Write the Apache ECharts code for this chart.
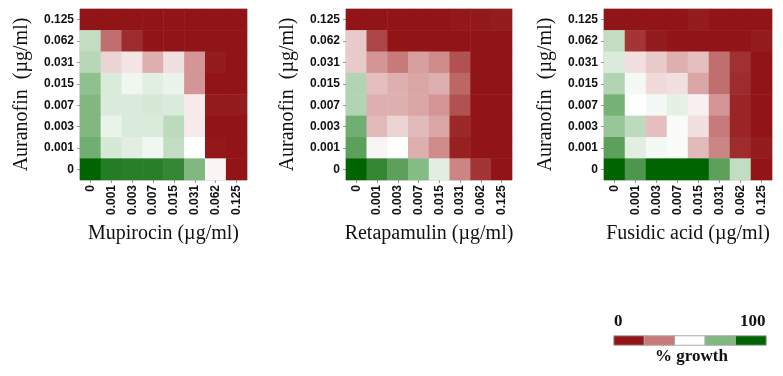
<!DOCTYPE html>
<html>
<head>
<meta charset="utf-8">
<script src="https://cdn.jsdelivr.net/npm/echarts@6/dist/echarts.min.js"></script>
<style>
  html, body { margin: 0; padding: 0; background: #fff; }
  #chart { width: 783px; height: 376px; }
</style>
</head>
<body>
<div id="chart"></div>
<script>
// concentrations (µg/ml), same for both axes
const conc = ['0', '0.001', '0.003', '0.007', '0.015', '0.031', '0.062', '0.125']

// % growth, rows listed top (auranofin 0.125) to bottom (auranofin 0)
const mupirocin = [
  [0, 0, 0, 0, 0, 0, 0, 0],
  [62, 22, 6, 0, 0, 0, 0, 0],
  [64, 42, 45, 35, 44, 30, 2, 0],
  [72, 57, 53, 56, 54, 30, 0, 0],
  [75, 57, 57, 58, 57, 46, 2, 2],
  [75, 54, 57, 57, 63, 46, 0, 0],
  [78, 58, 56, 53, 62, 50, 1, 0],
  [100, 93, 92, 92, 90, 75, 48, 0]
]
const retapamulin = [
  [0, 0, 0, 0, 0, 1, 1, 2],
  [40, 12, 0, 0, 0, 0, 0, 0],
  [40, 30, 25, 32, 28, 15, 0, 0],
  [65, 38, 35, 33, 35, 20, 0, 0],
  [65, 35, 35, 33, 30, 15, 0, 0],
  [78, 37, 42, 37, 33, 5, 0, 0],
  [82, 48, 50, 35, 28, 3, 0, 0],
  [100, 90, 82, 74, 56, 27, 8, 0]
]
const fusidic = [
  [0, 0, 0, 0, 2, 0, 0, 0],
  [62, 8, 2, 0, 0, 0, 0, 2],
  [57, 44, 40, 35, 38, 22, 7, 0],
  [65, 52, 43, 44, 33, 22, 6, 0],
  [77, 50, 52, 55, 47, 30, 4, 0],
  [70, 63, 38, 51, 44, 25, 4, 0],
  [82, 56, 52, 51, 37, 27, 6, 2],
  [100, 85, 100, 100, 100, 82, 62, 0]
]
const legendSteps = [0, 25, 50, 75, 100]

const panels = [
  { name: 'Mupirocin (µg/ml)', rows: mupirocin, left: 80, width: 167 },
  { name: 'Retapamulin (µg/ml)', rows: retapamulin, left: 346, width: 166 },
  { name: 'Fusidic acid (µg/ml)', rows: fusidic, left: 604, width: 168 }
]

const toCells = rows => {
  const out = []
  rows.forEach((row, r) => row.forEach((v, c) => out.push([c, 7 - r, v])))
  return out
}

const tickFont = { fontFamily: 'Liberation Sans, Arial', fontWeight: 'bold', fontSize: 12, color: '#111' }
const nameFont = { fontFamily: 'Liberation Serif, Times New Roman', fontSize: 20, color: '#111' }

const grid = []
const xAxis = []
const yAxis = []
const series = []

panels.forEach((p, i) => {
  grid.push({ left: p.left, top: 9, width: p.width, height: 171, show: true, borderColor: '#c8c8c8', borderWidth: 1 })
  xAxis.push({
    type: 'category', gridIndex: i, data: conc,
    name: p.name, nameLocation: 'middle', nameGap: 44, nameTextStyle: nameFont,
    axisLine: { show: false }, splitLine: { show: false },
    axisTick: { show: true, length: 3, alignWithLabel: true, lineStyle: { color: '#999' } },
    axisLabel: { ...tickFont, rotate: 90, margin: 5, interval: 0 }
  })
  yAxis.push({
    type: 'category', gridIndex: i, data: conc,
    name: 'Auranofin  (µg/ml)', nameLocation: 'middle', nameGap: 48, nameTextStyle: nameFont,
    axisLine: { show: false }, splitLine: { show: false },
    axisTick: { show: true, length: 3, alignWithLabel: true, lineStyle: { color: '#999' } },
    axisLabel: { ...tickFont, margin: 6, interval: 0 }
  })
  series.push({
    type: 'heatmap', xAxisIndex: i, yAxisIndex: i,
    data: toCells(p.rows), itemStyle: { borderWidth: 0 }
  })
})

// colour key drawn as a tiny heatmap
grid.push({ left: 614, top: 336, width: 152, height: 9 })
xAxis.push({ type: 'category', gridIndex: 3, data: legendSteps.map(String), show: false })
yAxis.push({ type: 'category', gridIndex: 3, data: ['k'], show: false })
series.push({
  type: 'heatmap', xAxisIndex: 3, yAxisIndex: 3,
  data: legendSteps.map((v, k) => [k, 0, v]),
  itemStyle: { borderColor: '#aaa', borderWidth: 1 }
})

const chart = echarts.init(document.getElementById('chart'))
chart.setOption({
  animation: false,
  backgroundColor: '#fff',
  grid, xAxis, yAxis, series,
  visualMap: {
    show: false, type: 'continuous', min: 0, max: 100, seriesIndex: [0, 1, 2, 3],
    inRange: { color: ['#911416', '#c87a7a', '#ffffff', '#80b880', '#006400'] }
  },
  graphic: [
    { type: 'text', left: 614, top: 313, style: { text: '0', font: 'bold 17px "Liberation Serif"', fill: '#111' } },
    { type: 'text', left: 740, top: 313, style: { text: '100', font: 'bold 17px "Liberation Serif"', fill: '#111' } },
    { type: 'text', left: 655, top: 348, style: { text: '% growth', font: 'bold 17px "Liberation Serif"', fill: '#111' } }
  ]
})
</script>
</body>
</html>
